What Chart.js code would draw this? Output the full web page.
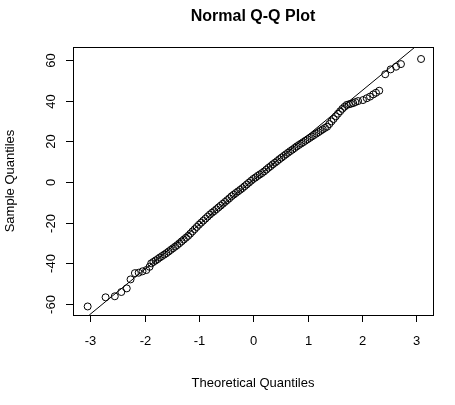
<!DOCTYPE html>
<html><head><meta charset="utf-8">
<script src="https://cdn.jsdelivr.net/npm/chart.js@4"></script>
<style>html,body{margin:0;padding:0;background:#fff}#w{width:455px;height:405px}</style>
</head><body><div id="w"><canvas id="c"></canvas></div>
<script>
const theoretical = [-3.05,-2.72,-2.55,-2.43,-2.33,-2.26,-2.18,-2.11,-2.04,-1.97,-1.91,
-1.88,-1.84,-1.80,-1.76,-1.72,-1.68,-1.64,-1.60,-1.56,-1.52,-1.48,-1.44,-1.40,-1.36,-1.32,-1.28,-1.24,-1.20,-1.16,-1.12,-1.08,-1.04,-1.00,-0.96,-0.92,-0.88,-0.84,-0.80,-0.76,-0.72,-0.68,-0.64,-0.60,-0.56,-0.52,-0.48,-0.44,-0.40,-0.36,-0.32,-0.28,-0.24,-0.20,-0.16,-0.12,-0.08,-0.04,0.00,0.04,0.08,0.12,0.16,0.20,0.24,0.28,0.32,0.36,0.40,0.44,0.48,0.52,0.56,0.60,0.64,0.68,0.72,0.76,0.80,0.84,0.88,0.92,0.96,1.00,1.04,1.08,1.12,1.16,1.20,1.24,1.28,1.32,1.36,1.40,1.44,1.48,1.52,1.56,1.60,1.64,1.68,1.72,1.76,1.80,1.84,
1.88,1.93,2.02,2.09,2.15,2.21,2.26,2.32,2.43,2.53,2.63,2.72,3.09];
const sample = [-61.2,-56.7,-56.2,-54.1,-52.3,-47.9,-44.8,-44.6,-43.9,-43.3,-41.7,
-40.0,-39.3,-38.6,-37.9,-37.1,-36.4,-35.7,-35.0,-34.2,-33.4,-32.6,-31.8,-31.0,-30.1,-29.2,-28.3,-27.4,-26.5,-25.4,-24.3,-23.2,-22.1,-21.0,-20.0,-19.0,-18.0,-17.0,-16.0,-15.1,-14.3,-13.4,-12.5,-11.6,-10.7,-9.8,-8.9,-8.0,-7.0,-6.2,-5.4,-4.6,-3.8,-3.0,-2.1,-1.2,-0.3,0.6,1.5,2.2,3.0,3.7,4.4,5.2,6.1,7.0,7.8,8.7,9.5,10.3,11.2,12.0,12.8,13.6,14.4,15.2,15.9,16.7,17.5,18.2,18.9,19.6,20.3,21.0,21.7,22.4,23.1,23.8,24.5,25.2,25.9,26.6,27.2,28.5,29.8,31.0,32.3,33.6,34.8,36.0,37.0,37.9,38.2,38.5,38.8,
39.3,39.8,40.3,41.2,42.0,43.1,43.9,44.9,53.0,55.4,56.7,58.0,60.5];
const lineX = [-3.02, 2.98];
const lineY = [-65.4, 66.4];
const xTicks = [-3,-2,-1,0,1,2,3];
const yTicks = [-60,-40,-20,0,20,40,60];
const titleText = "Normal Q-Q Plot", xTitle = "Theoretical Quantiles", yTitle = "Sample Quantiles";

const F = '"Liberation Sans", Arial, sans-serif';
const deco = {
  id:'deco',
  afterDraw(ch){
    const c=ch.ctx, a=ch.chartArea, xs=ch.scales.x, ys=ch.scales.y;
    c.save();
    c.strokeStyle='#000'; c.lineWidth=1;
    c.strokeRect(Math.round(a.left)+0.5,Math.round(a.top)+0.5,Math.round(a.right-a.left),Math.round(a.bottom-a.top));
    c.fillStyle='#000'; c.font='13px '+F;
    c.textAlign='center'; c.textBaseline='top';
    xTicks.forEach(v=>{const p=Math.round(xs.getPixelForValue(v))+0.5;
      c.beginPath();c.moveTo(p,a.bottom);c.lineTo(p,a.bottom+7);c.stroke();
      c.fillText(String(v),p,a.bottom+20);});
    yTicks.forEach(v=>{const p=Math.round(ys.getPixelForValue(v))+0.5;
      c.beginPath();c.moveTo(a.left,p);c.lineTo(a.left-7,p);c.stroke();
      c.save();c.translate(a.left-21,p);c.rotate(-Math.PI/2);
      c.textAlign='center';c.textBaseline='bottom';c.fillText(String(v),0,6);c.restore();});
    c.textAlign='center';c.textBaseline='middle';
    c.fillText(xTitle,(a.left+a.right)/2,383);
    c.save();c.translate(10,(a.top+a.bottom)/2);c.rotate(-Math.PI/2);c.fillText(yTitle,0,0);c.restore();
    c.font='bold 16px '+F;
    c.fillText(titleText,(a.left+a.right)/2,17);
    c.restore();
  }
};
new Chart(document.getElementById('c'),{
  type:'scatter',
  data:{datasets:[
    {data:theoretical.map((x,i)=>({x,y:sample[i]})),pointStyle:'circle',pointRadius:3.5,
     borderColor:'#000',backgroundColor:'rgba(0,0,0,0)',borderWidth:1,pointHoverRadius:3.5},
    {type:'line',data:lineX.map((x,i)=>({x,y:lineY[i]})),borderColor:'#000',borderWidth:1,pointRadius:0,fill:false}
  ]},
  options:{responsive:true,maintainAspectRatio:false,animation:false,
    layout:{padding:{left:73,right:22,top:47,bottom:90}},
    plugins:{legend:{display:false},tooltip:{enabled:false}},
    scales:{x:{type:'linear',min:-3.32,max:3.31,display:false},
            y:{type:'linear',min:-65.4,max:66.4,display:false}}},
  plugins:[deco]
});
</script></body></html>
